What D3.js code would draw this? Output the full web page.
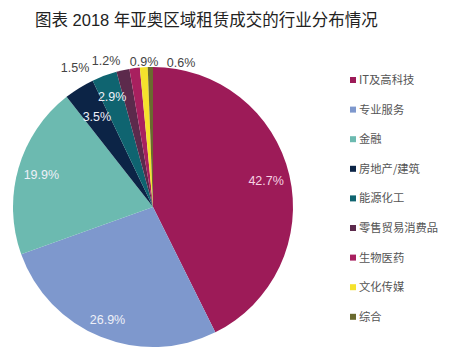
<!DOCTYPE html>
<html><head><meta charset="utf-8">
<script src="https://cdn.jsdelivr.net/npm/d3@7"></script>
<style>body{margin:0;background:#fff;}svg{display:block;}</style>
</head><body>
<svg id="c" width="450" height="357"></svg>
<script>
const categories = ["IT及高科技","专业服务","金融","房地产/建筑","能源化工","零售贸易消费品","生物医药","文化传媒","综合"];
const values = [42.7, 26.9, 19.9, 3.5, 2.9, 1.5, 1.2, 0.9, 0.6];
const labels = ["42.7%","26.9%","19.9%","3.5%","2.9%","1.5%","1.2%","0.9%","0.6%"];
const colors = ["#9d1b58","#7e98cd","#6cbab0","#0c2446","#0f6470","#5c2a4c","#a8205f","#f5e22c","#6a6a2e"];
const title = "图表 2018 年亚奥区域租赁成交的行业分布情况";

const svg = d3.select("#c");
svg.append("text").attr("x",35).attr("y",26).attr("font-family","'Liberation Sans','Noto Sans CJK SC',sans-serif")
  .attr("font-size",16.5).attr("fill","#222").text(title);

const cx=153, cy=207, R=140;
const pie = d3.pie().sort(null).value(d=>d).startAngle(0).endAngle(2*Math.PI);
const arcs = pie(values);
const arc = d3.arc().innerRadius(0).outerRadius(R);
const g = svg.append("g").attr("transform",`translate(${cx},${cy})`);
g.selectAll("path").data(arcs).enter().append("path")
  .attr("d",arc).attr("fill",(d,i)=>colors[i]);

// label placement
const outerOffsets = {5:[-78,-139],6:[-47,-146],7:[-9,-145],8:[28,-144]};
const innerR = {0:0.83,1:0.87,2:0.83,3:0.76,4:0.84};
arcs.forEach((d,i)=>{
  let x,y,fill;
  if(outerOffsets[i]){
    [x,y]=outerOffsets[i]; fill="#444";
  } else {
    const a=(d.startAngle+d.endAngle)/2, r=R*innerR[i];
    x=Math.sin(a)*r; y=-Math.cos(a)*r; fill= i===0?"#f6d3e3":"#eef0f8";
  }
  g.append("text").attr("x",x).attr("y",y).attr("dy","0.35em").attr("text-anchor","middle")
   .attr("font-family","'Liberation Sans',Arial,sans-serif").attr("font-size",12.5)
   .attr("fill",fill).text(labels[i]);
});

// legend
const leg = svg.append("g");
categories.forEach((c,i)=>{
  const y = 80 + i*29.6;
  leg.append("rect").attr("x",350).attr("y",y-3).attr("width",6).attr("height",6).attr("fill",colors[i]);
  leg.append("text").attr("x",359).attr("y",y).attr("dy","0.35em")
    .attr("font-family","'Noto Sans CJK SC',sans-serif").attr("font-size",11.3).attr("fill","#555").text(c);
});
</script>
</body></html>
